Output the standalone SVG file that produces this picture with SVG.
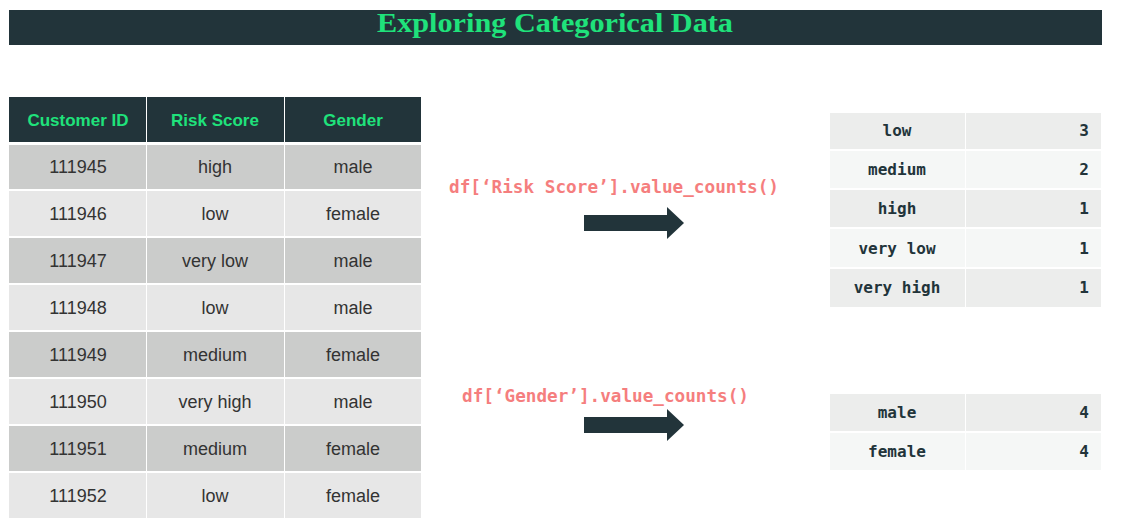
<svg xmlns="http://www.w3.org/2000/svg" width="1122" height="528" viewBox="0 0 1122 528">
<style>
.hdr{fill:#22343A}
.ht{font-family:"Liberation Sans",Arial,sans-serif;font-weight:bold;font-size:17px;fill:#1FE27B;text-anchor:middle}
.r1{fill:#CBCCCB}
.r2{fill:#E7E7E7}
.dt{font-family:"Liberation Sans",Arial,sans-serif;font-size:18px;fill:#333;text-anchor:middle}
.c1{fill:#ECEDEC}
.c2{fill:#F5F7F6}
.mt{font-family:"DejaVu Sans Mono","Liberation Mono",monospace;font-weight:bold;font-size:16px;fill:#22343A}
.code{font-family:"DejaVu Sans Mono","Liberation Mono",monospace;font-weight:bold;font-size:17px;fill:#F57E7E}
.arrow{fill:#22343A}
</style>
<g id="title">
<rect x="9" y="10" width="1093" height="35" class="hdr"/>
<text x="555" y="32" font-family="Liberation Serif,Georgia,serif" font-weight="bold" font-size="28" fill="#1FE27B" text-anchor="middle" textLength="356" lengthAdjust="spacingAndGlyphs">Exploring Categorical Data</text>
</g>
<g id="data-table">
<rect x="9" y="97" width="137" height="45" class="hdr"/>
<rect x="147" y="97" width="137" height="45" class="hdr"/>
<rect x="285" y="97" width="136" height="45" class="hdr"/>
<text x="78" y="126" class="ht">Customer ID</text>
<text x="215" y="126" class="ht">Risk Score</text>
<text x="353" y="126" class="ht">Gender</text>
<g>
<rect x="9" y="145" width="137" height="44" class="r1"/><rect x="147" y="145" width="137" height="44" class="r1"/><rect x="285" y="145" width="136" height="44" class="r1"/>
<text x="78" y="173" class="dt">111945</text><text x="215" y="173" class="dt">high</text><text x="353" y="173" class="dt">male</text>
</g>
<g>
<rect x="9" y="191" width="137" height="45" class="r2"/><rect x="147" y="191" width="137" height="45" class="r2"/><rect x="285" y="191" width="136" height="45" class="r2"/>
<text x="78" y="220" class="dt">111946</text><text x="215" y="220" class="dt">low</text><text x="353" y="220" class="dt">female</text>
</g>
<g>
<rect x="9" y="238" width="137" height="45" class="r1"/><rect x="147" y="238" width="137" height="45" class="r1"/><rect x="285" y="238" width="136" height="45" class="r1"/>
<text x="78" y="267" class="dt">111947</text><text x="215" y="267" class="dt">very low</text><text x="353" y="267" class="dt">male</text>
</g>
<g>
<rect x="9" y="285" width="137" height="45" class="r2"/><rect x="147" y="285" width="137" height="45" class="r2"/><rect x="285" y="285" width="136" height="45" class="r2"/>
<text x="78" y="314" class="dt">111948</text><text x="215" y="314" class="dt">low</text><text x="353" y="314" class="dt">male</text>
</g>
<g>
<rect x="9" y="332" width="137" height="45" class="r1"/><rect x="147" y="332" width="137" height="45" class="r1"/><rect x="285" y="332" width="136" height="45" class="r1"/>
<text x="78" y="361" class="dt">111949</text><text x="215" y="361" class="dt">medium</text><text x="353" y="361" class="dt">female</text>
</g>
<g>
<rect x="9" y="379" width="137" height="45" class="r2"/><rect x="147" y="379" width="137" height="45" class="r2"/><rect x="285" y="379" width="136" height="45" class="r2"/>
<text x="78" y="408" class="dt">111950</text><text x="215" y="408" class="dt">very high</text><text x="353" y="408" class="dt">male</text>
</g>
<g>
<rect x="9" y="426" width="137" height="45" class="r1"/><rect x="147" y="426" width="137" height="45" class="r1"/><rect x="285" y="426" width="136" height="45" class="r1"/>
<text x="78" y="455" class="dt">111951</text><text x="215" y="455" class="dt">medium</text><text x="353" y="455" class="dt">female</text>
</g>
<g>
<rect x="9" y="473" width="137" height="45" class="r2"/><rect x="147" y="473" width="137" height="45" class="r2"/><rect x="285" y="473" width="136" height="45" class="r2"/>
<text x="78" y="502" class="dt">111952</text><text x="215" y="502" class="dt">low</text><text x="353" y="502" class="dt">female</text>
</g>
</g>
<g id="code-risk">
<text x="449" y="193" class="code" textLength="330" lengthAdjust="spacingAndGlyphs">df[‘Risk Score’].value_counts()</text>
</g>
<g id="code-gender">
<text x="462" y="402" class="code" textLength="287" lengthAdjust="spacingAndGlyphs">df[‘Gender’].value_counts()</text>
</g>
<g id="connectors">
<polygon class="arrow" points="584,215 667,215 667,207 684,223 667,239 667,231 584,231"/>
<polygon class="arrow" points="584,417 667,417 667,409 684,425 667,441 667,433 584,433"/>
</g>
<g id="risk-counts">
<rect x="830" y="113" width="135" height="36" class="c1"/><rect x="966" y="113" width="135" height="36" class="c1"/>
<text x="897" y="136" class="mt" text-anchor="middle">low</text><text x="1089" y="136" class="mt" text-anchor="end">3</text>
<rect x="830" y="151" width="135" height="37" class="c2"/><rect x="966" y="151" width="135" height="37" class="c2"/>
<text x="897" y="175" class="mt" text-anchor="middle">medium</text><text x="1089" y="175" class="mt" text-anchor="end">2</text>
<rect x="830" y="190" width="135" height="37" class="c1"/><rect x="966" y="190" width="135" height="37" class="c1"/>
<text x="897" y="214" class="mt" text-anchor="middle">high</text><text x="1089" y="214" class="mt" text-anchor="end">1</text>
<rect x="830" y="229" width="135" height="38" class="c2"/><rect x="966" y="229" width="135" height="38" class="c2"/>
<text x="897" y="254" class="mt" text-anchor="middle">very low</text><text x="1089" y="254" class="mt" text-anchor="end">1</text>
<rect x="830" y="269" width="135" height="38" class="c1"/><rect x="966" y="269" width="135" height="38" class="c1"/>
<text x="897" y="293" class="mt" text-anchor="middle">very high</text><text x="1089" y="293" class="mt" text-anchor="end">1</text>
</g>
<g id="gender-counts">
<rect x="830" y="394" width="135" height="37" class="c1"/><rect x="966" y="394" width="135" height="37" class="c1"/>
<text x="897" y="418" class="mt" text-anchor="middle">male</text><text x="1089" y="418" class="mt" text-anchor="end">4</text>
<rect x="830" y="433" width="135" height="37" class="c2"/><rect x="966" y="433" width="135" height="37" class="c2"/>
<text x="897" y="457" class="mt" text-anchor="middle">female</text><text x="1089" y="457" class="mt" text-anchor="end">4</text>
</g>
</svg>
